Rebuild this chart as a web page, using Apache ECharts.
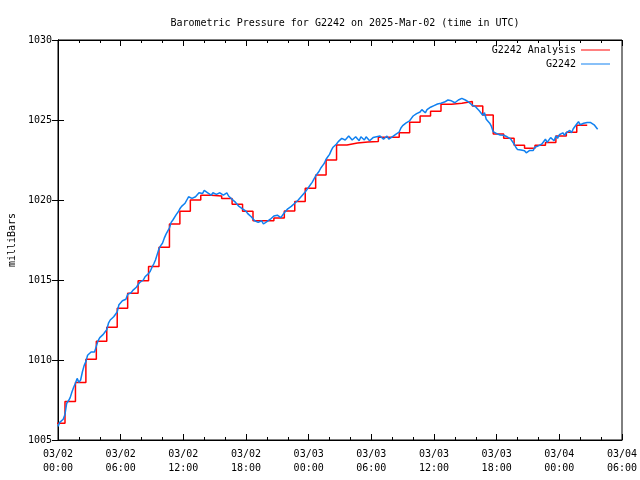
<!DOCTYPE html>
<html>
<head>
<meta charset="utf-8">
<script src="https://cdn.jsdelivr.net/npm/echarts@6/dist/echarts.min.js"></script>
<style>html,body{margin:0;padding:0;background:#fff}#c{width:640px;height:480px}</style>
</head>
<body>
<div id="c"></div>
<script>
// X axis in hours since 2025-03-02 00:00 UTC
const xTickLabels = {0:'03/02\n00:00',6:'03/02\n06:00',12:'03/02\n12:00',18:'03/02\n18:00',24:'03/03\n00:00',30:'03/03\n06:00',36:'03/03\n12:00',42:'03/03\n18:00',48:'03/04\n00:00',54:'03/04\n06:00'};
const yTicks = [1005,1010,1015,1020,1025,1030];

// Analysis (hourly steps), times in hours
const analysisHours = [-0.33,0.67,1.67,2.67,3.67,4.67,5.67,6.67,7.67,8.67,9.67,10.67,11.67,12.67,13.67,14.67,15.67,16.67,17.67,18.67,19.67,20.67,21.67,22.67,23.67,24.67,25.67,26.67,27.67,28.67,29.67,30.67,31.67,32.67,33.67,34.67,35.67,36.67,37.67,38.67,39.67,40.67,41.67,42.67,43.67,44.67,45.67,46.67,47.67,48.67,49.67,50.67];
const analysisValues = [1006.04,1007.4,1008.6,1010.04,1011.17,1012.05,1013.23,1014.17,1014.95,1015.85,1017.04,1018.5,1019.29,1020.0,1020.29,1020.25,1020.1,1019.73,1019.3,1018.7,1018.7,1018.87,1019.31,1019.9,1020.73,1021.56,1022.5,1023.44,1023.56,1023.62,1023.66,1023.92,1023.92,1024.2,1024.86,1025.25,1025.55,1025.98,1026.04,1026.15,1025.88,1025.31,1024.12,1023.86,1023.42,1023.23,1023.42,1023.6,1024.0,1024.23,1024.67,1024.67];

// Station observations every 10 minutes from 03/02 00:00
const obsStepHours = 1/6;
const obsValues = [
1005.85,1006.1,1006.2,1006.3,1006.6,1007.3,1007.45,1007.65,1008.0,1008.3,1008.55,1008.85,
1008.6,1008.75,1009.25,1009.65,1009.9,1010.3,1010.35,1010.5,1010.55,1010.5,1010.85,1011.2,
1011.4,1011.5,1011.6,1011.75,1011.9,1012.3,1012.5,1012.6,1012.7,1012.8,1013.0,1013.45,
1013.55,1013.7,1013.7,1013.8,1014.1,1014.2,1014.2,1014.35,1014.45,1014.55,1014.7,1014.85,
1014.95,1015.0,1015.2,1015.25,1015.4,1015.55,1015.8,1016.0,1016.25,1016.6,1016.95,1017.15,
1017.3,1017.6,1017.85,1018.05,1018.25,1018.6,1018.75,1018.85,1019.1,1019.25,1019.45,1019.6,
1019.7,1019.8,1020.0,1020.2,1020.2,1020.1,1020.15,1020.2,1020.3,1020.45,1020.5,1020.4,
1020.6,1020.7,1020.45,1020.35,1020.3,1020.45,1020.55,1020.35,1020.3,1020.45,1020.4,1020.3,
1020.35,1020.45,1020.25,1020.15,1020.05,1019.95,1019.85,1019.75,1019.6,1019.5,1019.45,1019.4,
1019.3,1019.15,1019.05,1018.95,1018.85,1018.7,1018.75,1018.6,1018.65,1018.7,1018.5,1018.55,
1018.65,1018.72,1018.8,1018.72,1019.0,1018.9,1019.05,1019.0,1018.9,1019.0,1019.2,1019.3,
1019.45,1019.5,1019.6,1019.7,1019.8,1019.85,1020.0,1020.1,1020.25,1020.35,1020.5,1020.65,
1020.8,1020.95,1021.1,1021.3,1021.5,1021.6,1021.8,1022.0,1022.15,1022.3,1022.55,1022.7,
1022.85,1023.1,1023.3,1023.4,1023.5,1023.65,1023.75,1023.85,1023.9,1023.75,1023.85,1024.0,
1023.92,1023.75,1023.8,1023.95,1023.9,1023.7,1023.95,1024.0,1023.75,1023.95,1023.9,1023.7,
1023.75,1023.9,1023.82,1023.95,1023.9,1024.0,1024.0,1023.8,1023.9,1024.0,1023.8,1023.7,
1023.95,1024.0,1024.1,1024.0,1024.25,1024.5,1024.65,1024.6,1024.82,1024.75,1024.95,1025.1,
1025.25,1025.2,1025.4,1025.35,1025.5,1025.65,1025.55,1025.45,1025.65,1025.75,1025.8,1025.7,
1025.9,1025.95,1026.0,1025.9,1026.05,1026.15,1026.12,1026.05,1026.25,1026.3,1026.2,1026.1,
1026.08,1026.15,1026.25,1026.2,1026.35,1026.25,1026.25,1026.3,1026.12,1026.2,1025.92,1026.0,
1025.82,1025.75,1025.58,1025.5,1025.3,1025.45,1025.05,1024.95,1024.8,1024.6,1024.27,1024.2,
1024.15,1024.1,1024.06,1024.15,1024.05,1023.95,1023.95,1024.0,1023.82,1023.75,1023.5,1023.3,
1023.15,1023.05,1023.12,1023.2,1023.08,1022.95,1023.02,1023.1,1023.2,1023.1,1023.3,1023.25,
1023.38,1023.3,1023.5,1023.45,1023.8,1023.6,1023.72,1023.9,1023.8,1023.7,1024.0,1023.85,
1024.08,1024.2,1024.2,1024.05,1024.2,1024.3,1024.35,1024.2,1024.45,1024.4,1024.75,1024.9,
1024.7,1024.75,1024.8,1024.83,1024.85,1024.86,1024.84,1024.8,1024.7,1024.58,1024.42
];

const FONT = 'DejaVu Sans Mono';
const analysisData = analysisHours.map((h, i) => [h, analysisValues[i]]);
const obsData = obsValues.map((v, i) => [i * obsStepHours, v]);

const chart = echarts.init(document.getElementById('c'), null, {renderer: 'canvas'});
const tickCommon = {inside: true, length: 6, lineStyle: {color: '#000', width: 1}};
chart.setOption({
  animation: false,
  backgroundColor: '#fff',
  textStyle: {fontFamily: FONT, color: '#000'},
  title: {
    text: 'Barometric Pressure for G2242 on 2025-Mar-02 (time in UTC)',
    left: 340, top: 13, textAlign: 'center',
    textStyle: {fontFamily: FONT, fontSize: 10, fontWeight: 'normal', color: '#000'}
  },
  legend: [
    {data: [{name: 'G2242 Analysis'}], right: 25, top: 40, align: 'right', icon: 'rect', itemWidth: 29, itemHeight: 1,
     textStyle: {fontFamily: FONT, fontSize: 10, color: '#000'}, selectedMode: false},
    {data: [{name: 'G2242'}], right: 25, top: 54, align: 'right', icon: 'rect', itemWidth: 29, itemHeight: 1,
     textStyle: {fontFamily: FONT, fontSize: 10, color: '#000'}, selectedMode: false}
  ],
  grid: {left: 58, right: 18, top: 40, bottom: 40, show: true, borderColor: '#000', borderWidth: 1,
         containLabel: false, outerBoundsMode: 'none'},
  xAxis: [
    {type: 'value', min: 0, max: 54, interval: 6, position: 'bottom',
     axisLine: {show: true, lineStyle: {color: '#000'}}, axisTick: tickCommon,
     minorTick: {show: true, splitNumber: 3, length: 3, lineStyle: {color: '#000'}},
     splitLine: {show: false},
     axisLabel: {fontFamily: FONT, fontSize: 10, color: '#000', margin: 7, lineHeight: 14,
       formatter: v => xTickLabels[v] || ''}},
    {type: 'value', min: 0, max: 54, interval: 6, position: 'top',
     axisLine: {show: true, lineStyle: {color: '#000'}}, axisTick: tickCommon,
     minorTick: {show: true, splitNumber: 3, length: 3, lineStyle: {color: '#000'}},
     splitLine: {show: false}, axisLabel: {show: false}}
  ],
  yAxis: [
    {type: 'value', min: yTicks[0], max: yTicks[yTicks.length-1], interval: 5, position: 'left',
     name: 'milliBars', nameLocation: 'middle', nameGap: 41, nameRotate: 90,
     nameTextStyle: {fontFamily: FONT, fontSize: 10, color: '#000'},
     axisLine: {show: true, lineStyle: {color: '#000'}}, axisTick: tickCommon,
     splitLine: {show: false},
     axisLabel: {fontFamily: FONT, fontSize: 10, color: '#000', margin: 6, formatter: v => String(v)}},
    {type: 'value', min: yTicks[0], max: yTicks[yTicks.length-1], interval: 5, position: 'right',
     axisLine: {show: true, lineStyle: {color: '#000'}}, axisTick: tickCommon,
     splitLine: {show: false}, axisLabel: {show: false}}
  ],
  series: [
    {name: 'G2242 Analysis', type: 'line', step: 'end', data: analysisData, showSymbol: false, symbol: 'none',
     color: '#ff0000', lineStyle: {color: '#ff0000', width: 1.5}, z: 2},
    {name: 'G2242', type: 'line', data: obsData, showSymbol: false, symbol: 'none',
     color: '#1080f0', lineStyle: {color: '#1080f0', width: 1.5}, z: 3}
  ]
});
</script>
</body>
</html>
